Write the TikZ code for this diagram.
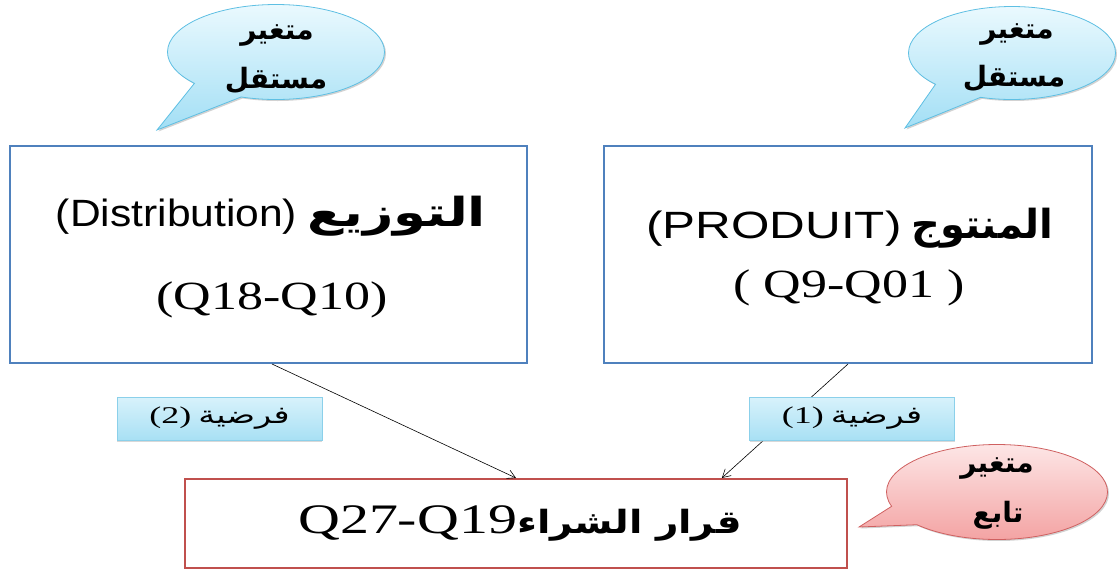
\documentclass[tikz,border=0pt]{standalone}
\usepackage{fontspec}
\usepackage{graphicx}
\setmainfont{Liberation Serif}
\newfontfamily\arialfont{Liberation Sans}
\newfontfamily\arabicfont[Script=Arabic]{DejaVu Sans}
\TeXXeTstate=1
\usetikzlibrary{shapes.callouts,shadows,arrows.meta,calc}

\definecolor{boxblue}{HTML}{4F81BD}
\definecolor{boxred}{HTML}{C0504D}
\definecolor{cloudtop}{HTML}{EAF9FE}
\definecolor{cloudbot}{HTML}{A3DFF5}
\definecolor{cloudline}{HTML}{5EBFE3}
\definecolor{pinktop}{HTML}{FDE6E6}
\definecolor{pinkbot}{HTML}{F3A0A0}
\definecolor{pinkline}{HTML}{CF6060}
\definecolor{tagtop}{HTML}{D8F2FB}
\definecolor{tagbot}{HTML}{A8E0F4}
\definecolor{tagline}{HTML}{8BD0EA}

% horizontally widened text
\newcommand\widen[2]{\scalebox{#1}[1]{#2}}
% a run of Arabic text, right to left
\newcommand\artext[1]{{\arabicfont\beginR #1\endR}}

\begin{document}
\begin{tikzpicture}[x=1pt,y=-1pt,
  varbox/.style={draw=boxblue,line width=2pt,inner sep=0pt},
  depbox/.style={draw=boxred,line width=2pt,inner sep=0pt},
  tagbox/.style={draw=tagline,line width=0.8pt,top color=tagtop,bottom color=tagbot,
    minimum width=205pt,minimum height=43pt,inner sep=0pt,
    drop shadow={shadow xshift=0pt,shadow yshift=-2pt,fill=black!30}},
  bubble/.style={ellipse callout,draw=cloudline,line width=0.8pt,
    top color=cloudtop,bottom color=cloudbot,inner sep=0pt,
    callout pointer arc=30,
    drop shadow={shadow xshift=1.5pt,shadow yshift=-1.5pt,fill=black!35}},
  redbubble/.style={bubble,draw=pinkline,top color=pinktop,bottom color=pinkbot,
    callout pointer arc=26},
  bubbletext/.style={font=\fontsize{28}{32}\selectfont\arabicfont\bfseries,inner sep=0pt},
  link/.style={line width=0.6pt,-{Straight Barb[length=8pt,width=9pt]}},
  txt/.style={inner sep=0pt}
]
\useasboundingbox (0,0) rectangle (1117,574);

% main boxes
\node[varbox,minimum width=517pt,minimum height=217pt] (dist) at (268.5,254.5) {};
\node[varbox,minimum width=488pt,minimum height=217pt] (prod) at (848,254.5) {};
\node[depbox,minimum width=662pt,minimum height=89pt] (buy) at (516,523.5) {};

% box texts
\node[txt] (distA) at (271,216) {\widen{1.12}{\arialfont\fontsize{38}{44}\selectfont (Distribution)}\hspace{10pt}\widen{1.32}{\fontsize{40}{46}\selectfont\artext{\bfseries التوزيع}}};
\node[txt] (distB) at (272,300) {\widen{1.3}{\fontsize{40}{46}\selectfont (Q18-Q10)}};
\node[txt] (prodA) at (850,228) {\widen{1.3}{\arialfont\fontsize{38}{44}\selectfont (PRODUIT)}\hspace{10pt}\widen{1.0}{\fontsize{40}{46}\selectfont\artext{\bfseries المنتوج}}};
\node[txt] (prodB) at (849,288) {\widen{1.3}{\fontsize{40}{46}\selectfont ( Q9-Q01 )}};
\node[txt] (buyT) at (520,523) {\widen{1.38}{\fontsize{42}{48}\selectfont Q27-Q19}\widen{1.22}{\fontsize{32}{38}\selectfont\artext{\bfseries قرار الشراء}}};

% hypothesis links
\draw[link] ($(dist.south)+(3.5,0)$) -- (buy.north);
\draw[link] (prod.south) -- ($(buy.north west)!0.81!(buy.north east)$);

% hypothesis tags
\node[tagbox] (h2) at (219.5,418.5) {\widen{1.5}{\fontsize{24}{28}\selectfont (2)}\hspace{7pt}\widen{1.4}{\fontsize{24}{28}\selectfont\artext{فرضية}}};
\node[tagbox] (h1) at (852,418.5) {\widen{1.5}{\fontsize{24}{28}\selectfont (1)}\hspace{7pt}\widen{1.4}{\fontsize{24}{28}\selectfont\artext{فرضية}}};

% speech bubbles
\coordinate (tipL) at (157,130);
\coordinate (tipR) at (905,128);
\coordinate (tipD) at (859,527);
\node[bubble,minimum width=217pt,minimum height=95pt,callout absolute pointer={(tipL)}] (indL) at (276,52) {};
\node[bubble,minimum width=207pt,minimum height=93pt,callout absolute pointer={(tipR)}] (indR) at (1012,53) {};
\node[redbubble,minimum width=221pt,minimum height=95pt,callout absolute pointer={(tipD)}] (dep) at (997,492) {};

\node[bubbletext] (indL1) at (277,35) {\artext{متغير}};
\node[bubbletext] (indL2) at (276,80) {\artext{مستقل}};
\node[bubbletext] (indR1) at (1017,34) {\artext{متغير}};
\node[bubbletext] (indR2) at (1014,78) {\artext{مستقل}};
\node[bubbletext] (dep1) at (997,468) {\artext{متغير}};
\node[bubbletext] (dep2) at (998,515) {\artext{تابع}};
\end{tikzpicture}
\end{document}
